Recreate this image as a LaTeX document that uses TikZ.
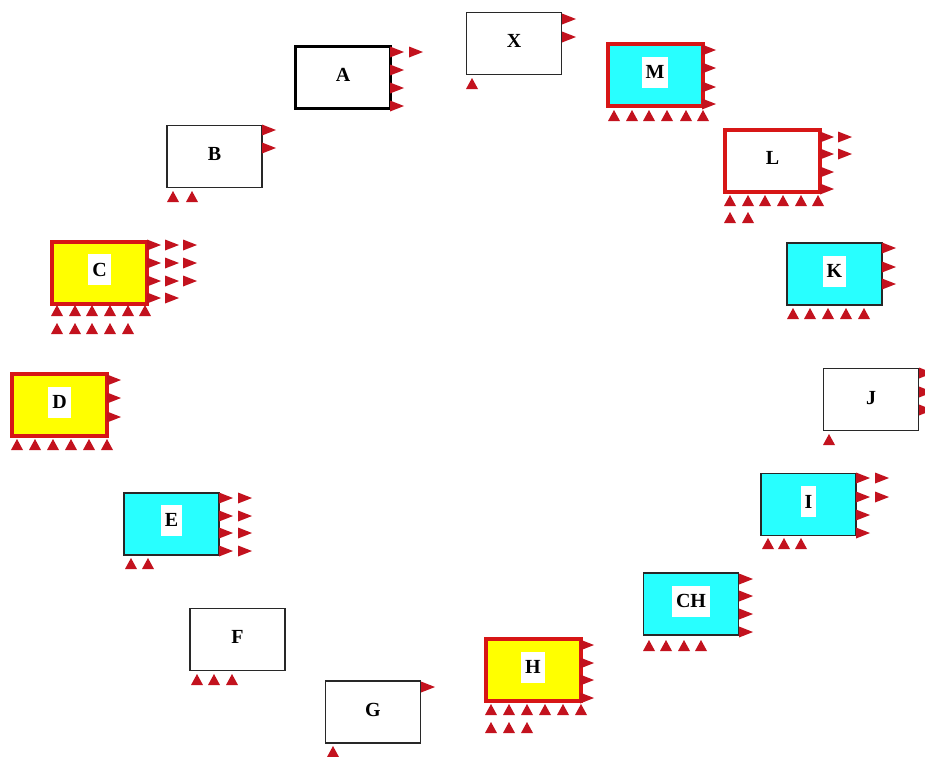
\documentclass[tikz,border=0pt]{standalone}
\usepackage{fontspec}
\setmainfont{Liberation Serif}
\usetikzlibrary{calc}
\definecolor{tri}{RGB}{195,18,30}
\definecolor{rb}{RGB}{215,22,22}
\definecolor{cy}{RGB}{40,255,255}
\definecolor{yl}{RGB}{255,255,0}
\definecolor{dk}{RGB}{40,40,40}
\newcommand\rtri[2]{\fill[tr] (#1,#2) ++(0,-5.5) -- ++(14,5.5) -- ++(-14,5.5) -- cycle;}
\newcommand\utri[2]{\fill[tr] (#1,#2) ++(-6,0) -- ++(6,-11) -- ++(6,11) -- cycle;}
\begin{document}
\begin{tikzpicture}[x=1pt,y=-1pt,
 box/.style={rectangle, minimum width=95, minimum height=62, inner sep=0, outer sep=0},
 wbox/.style={box, draw=dk, line width=1.4, fill=white},
 abox/.style={box, draw=black, line width=3, fill=white},
 rwbox/.style={box, draw=rb, line width=4, fill=white},
 rcbox/.style={box, draw=rb, line width=4, fill=cy},
 rybox/.style={box, draw=rb, line width=4, fill=yl},
 cbox/.style={box, draw=dk, line width=1.2, fill=cy},
 lbl/.style={font=\fontsize{20}{20}\selectfont\bfseries, inner xsep=4, inner ysep=0, text height=13.5, text depth=0, minimum height=31},
 wlbl/.style={lbl, fill=white},
 tr/.style={fill=tri}]
\useasboundingbox[fill=white] (0,0) rectangle (925,756);
% boxes
\node[abox]  (A)  at (343,77)    {};
\node[wbox]  (X)  at (514,43.5)  {};
\node[rcbox] (M)  at (655,75)    {};
\node[rwbox] (L)  at (772.5,161) {};
\node[wbox]  (B)  at (214.5,156.5) {};
\node[rybox] (C)  at (99.5,272.5) {};
\node[rybox] (D)  at (59.5,405)  {};
\node[cbox]  (E)  at (171.5,524) {};
\node[wbox]  (F)  at (237.5,639.5) {};
\node[wbox]  (G)  at (373,712)   {};
\node[rybox] (H)  at (533,670)   {};
\node[cbox]  (CH) at (691,604)   {};
\node[cbox]  (K)  at (834.5,274) {};
\node[wbox]  (J)  at (871,399.5) {};
\node[cbox]  (I)  at (808.5,504.5) {};
% labels
\node[lbl]  (At)  at ($(A)+(0,-2)$)  {A};
\node[lbl]  (Xt)  at ($(X)+(0,-3)$)  {X};
\node[wlbl] (Mt)  at ($(M)+(0,-3)$)  {M};
\node[lbl]  (Lt)  at ($(L)+(0,-3)$)  {L};
\node[lbl]  (Bt)  at ($(B)+(0,-3)$)  {B};
\node[wlbl] (Ct)  at ($(C)+(0,-3)$)  {C};
\node[wlbl] (Dt)  at ($(D)+(0,-3)$)  {D};
\node[wlbl] (Et)  at ($(E)+(0,-4)$)  {E};
\node[lbl]  (Ft)  at ($(F)+(0,-3)$)  {F};
\node[lbl]  (Gt)  at ($(G)+(0,-2)$)  {G};
\node[wlbl] (Ht)  at ($(H)+(0,-3)$)  {H};
\node[wlbl] (CHt) at ($(CH)+(0,-3)$) {CH};
\node[wlbl] (Kt)  at ($(K)+(0,-3)$)  {K};
\node[lbl]  (Jt)  at ($(J)+(0,-2)$)  {J};
\node[wlbl] (It)  at ($(I)+(0,-3)$)  {I};
% right-pointing triangles
\foreach \y in {52,70,88,106} {\rtri{390}{\y}}
\rtri{409}{52}
\foreach \y in {19,37} {\rtri{562}{\y}}
\foreach \y in {50,68,87,104} {\rtri{702}{\y}}
\foreach \y in {137,154,172,189} {\rtri{820}{\y}}
\foreach \y in {137,154} {\rtri{838}{\y}}
\foreach \y in {130,148} {\rtri{262}{\y}}
\foreach \y in {245,263,281,298} {\rtri{147}{\y}\rtri{165}{\y}}
\foreach \y in {245,263,281} {\rtri{183}{\y}}
\foreach \y in {380,398,417} {\rtri{107}{\y}}
\foreach \y in {498,516,533,551} {\rtri{219}{\y}\rtri{238}{\y}}
\rtri{421}{687}
\foreach \y in {645,663,680,698} {\rtri{580}{\y}}
\foreach \y in {579,596,614,632} {\rtri{739}{\y}}
\foreach \y in {248,267,284} {\rtri{882}{\y}}
\foreach \y in {373,392,410} {\rtri{919}{\y}}
\foreach \y in {478,497,515,533} {\rtri{856}{\y}}
\foreach \y in {478,497} {\rtri{875}{\y}}
% up-pointing triangles
\utri{472}{89}
\foreach \x in {614,632,649,667,686,703} {\utri{\x}{121}}
\foreach \x in {730,748,765,783,801,818} {\utri{\x}{206}}
\foreach \x in {730,748} {\utri{\x}{223}}
\foreach \x in {173,192} {\utri{\x}{202}}
\foreach \x in {57,75,92,110,128,145} {\utri{\x}{316}}
\foreach \x in {57,75,92,110,128} {\utri{\x}{334}}
\foreach \x in {17,35,53,71,89,107} {\utri{\x}{450}}
\foreach \x in {131,148} {\utri{\x}{569}}
\foreach \x in {197,214,232} {\utri{\x}{685}}
\utri{333}{757}
\foreach \x in {491,509,527,545,563,581} {\utri{\x}{715}}
\foreach \x in {491,509,527} {\utri{\x}{733}}
\foreach \x in {649,666,684,701} {\utri{\x}{651}}
\foreach \x in {793,810,828,846,864} {\utri{\x}{319}}
\utri{829}{445}
\foreach \x in {768,784,801} {\utri{\x}{549}}
\end{tikzpicture}
\end{document}
